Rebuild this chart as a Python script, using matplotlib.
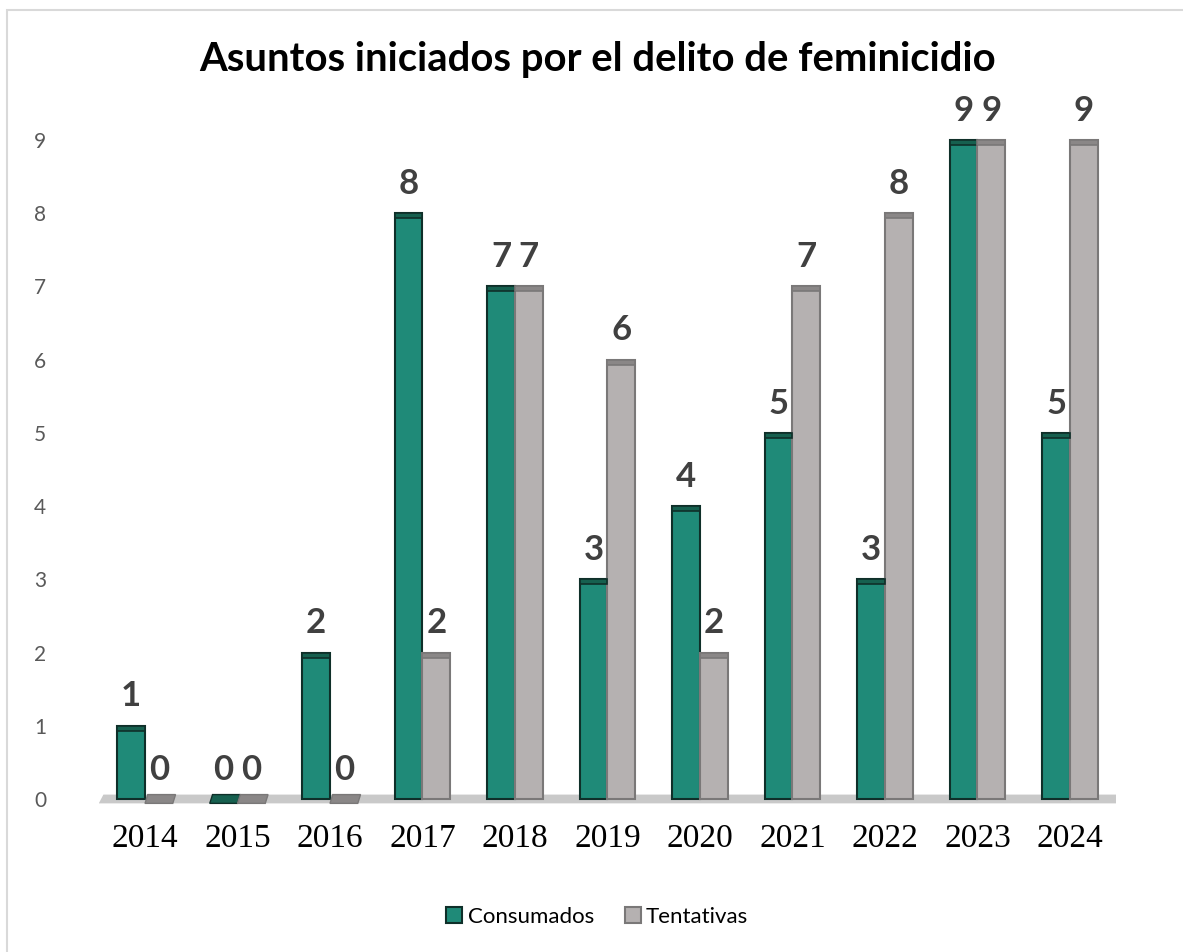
import matplotlib.pyplot as plt
import numpy as np
from matplotlib.patches import Rectangle, Polygon

plt.rcParams['savefig.dpi'] = 100

# datos
anios = ['2014', '2015', '2016', '2017', '2018', '2019', '2020', '2021', '2022', '2023', '2024']
consumados = [1, 0, 2, 8, 7, 3, 4, 5, 3, 9, 5]
tentativas = [0, 0, 0, 2, 7, 6, 2, 7, 8, 9, 9]
yticks = list(range(0, 10))

verde = '#1f8a78'
verde_borde = '#0f2f29'
verde_tapa = '#16604f'
gris = '#b5b1b1'
gris_borde = '#7a7878'
gris_tapa = '#8a8787'

fig = plt.figure(figsize=(11.83, 9.52))
ax = fig.add_axes([0.0835, 0.1492, 0.860, 0.7500])

# marco de la figura (solo se ve arriba e izquierda)
fig.add_artist(Rectangle((7 / 1183, -0.05), 1.2, 1 - 10 / 952 + 0.05, transform=fig.transFigure,
                         fill=False, edgecolor='#d9d9d9', linewidth=1.5))

x = np.arange(len(anios))
w = 0.30

# piso
ax.add_patch(Polygon([(-0.5, -0.06), (10.5, -0.06), (10.55, 0.06), (-0.45, 0.06)],
                     closed=True, facecolor='#c9c9c9', edgecolor='none', zorder=1))

def barras(xs, vals, color, borde, tapa):
    for xi, v in zip(xs, vals):
        if v == 0:
            ax.add_patch(Polygon([(xi - w / 2, -0.06), (xi + w / 2, -0.06),
                                  (xi + w / 2 + 0.03, 0.06), (xi - w / 2 + 0.03, 0.06)],
                                 closed=True, facecolor=tapa, edgecolor=borde, linewidth=1, zorder=3))
        else:
            ax.bar(xi, v, width=w, color=color, edgecolor=borde, linewidth=1.5, zorder=3)
            ax.bar(xi, 0.07, bottom=v - 0.07, width=w, color=tapa, edgecolor=borde, linewidth=1.2, zorder=4)

barras(x - w / 2, consumados, verde, verde_borde, verde_tapa)
barras(x + w / 2, tentativas, gris, gris_borde, gris_tapa)

for xi, v in zip(x - w / 2, consumados):
    ax.text(xi, v + 0.40, str(v), ha='center', va='center', fontsize=25, fontweight='bold',
            color='#404040', family='Lato', zorder=5)
for xi, v in zip(x + w / 2, tentativas):
    ax.text(xi, v + 0.40, str(v), ha='center', va='center', fontsize=25, fontweight='bold',
            color='#404040', family='Lato', zorder=5)

# leyenda
h1 = Rectangle((0, 0), 1, 1, facecolor=verde, edgecolor=verde_borde, linewidth=1.5)
h2 = Rectangle((0, 0), 1, 1, facecolor=gris, edgecolor=gris_borde, linewidth=1.5)
leg = fig.legend([h1, h2], ['Consumados', 'Tentativas'], loc='center', bbox_to_anchor=(0.505, 1 - 917 / 952),
                 ncol=2, frameon=False, prop={'family': 'Lato', 'size': 16},
                 handlelength=0.7, handleheight=0.7, handletextpad=0.25, columnspacing=1.4)

ax.set_xlim(-0.5, 10.5)
ax.set_ylim(-0.15, 9.6)
ax.set_xticks(x)
ax.set_xticklabels(anios, family='Liberation Serif', fontsize=24, color='black')
ax.set_yticks(yticks)
ax.set_yticklabels([str(t) for t in yticks], family='Lato', fontsize=15, color='#595959')
ax.tick_params(axis='both', length=0)
ax.tick_params(axis='y', pad=38)
ax.tick_params(axis='x', pad=10)
for s in ax.spines.values():
    s.set_visible(False)

fig.text(0.505, 1 - 60 / 952, 'Asuntos iniciados por el delito de feminicidio', ha='center', va='center',
         fontsize=28.8, fontweight='bold', family='Lato', color='black')

plt.savefig('out.png')
